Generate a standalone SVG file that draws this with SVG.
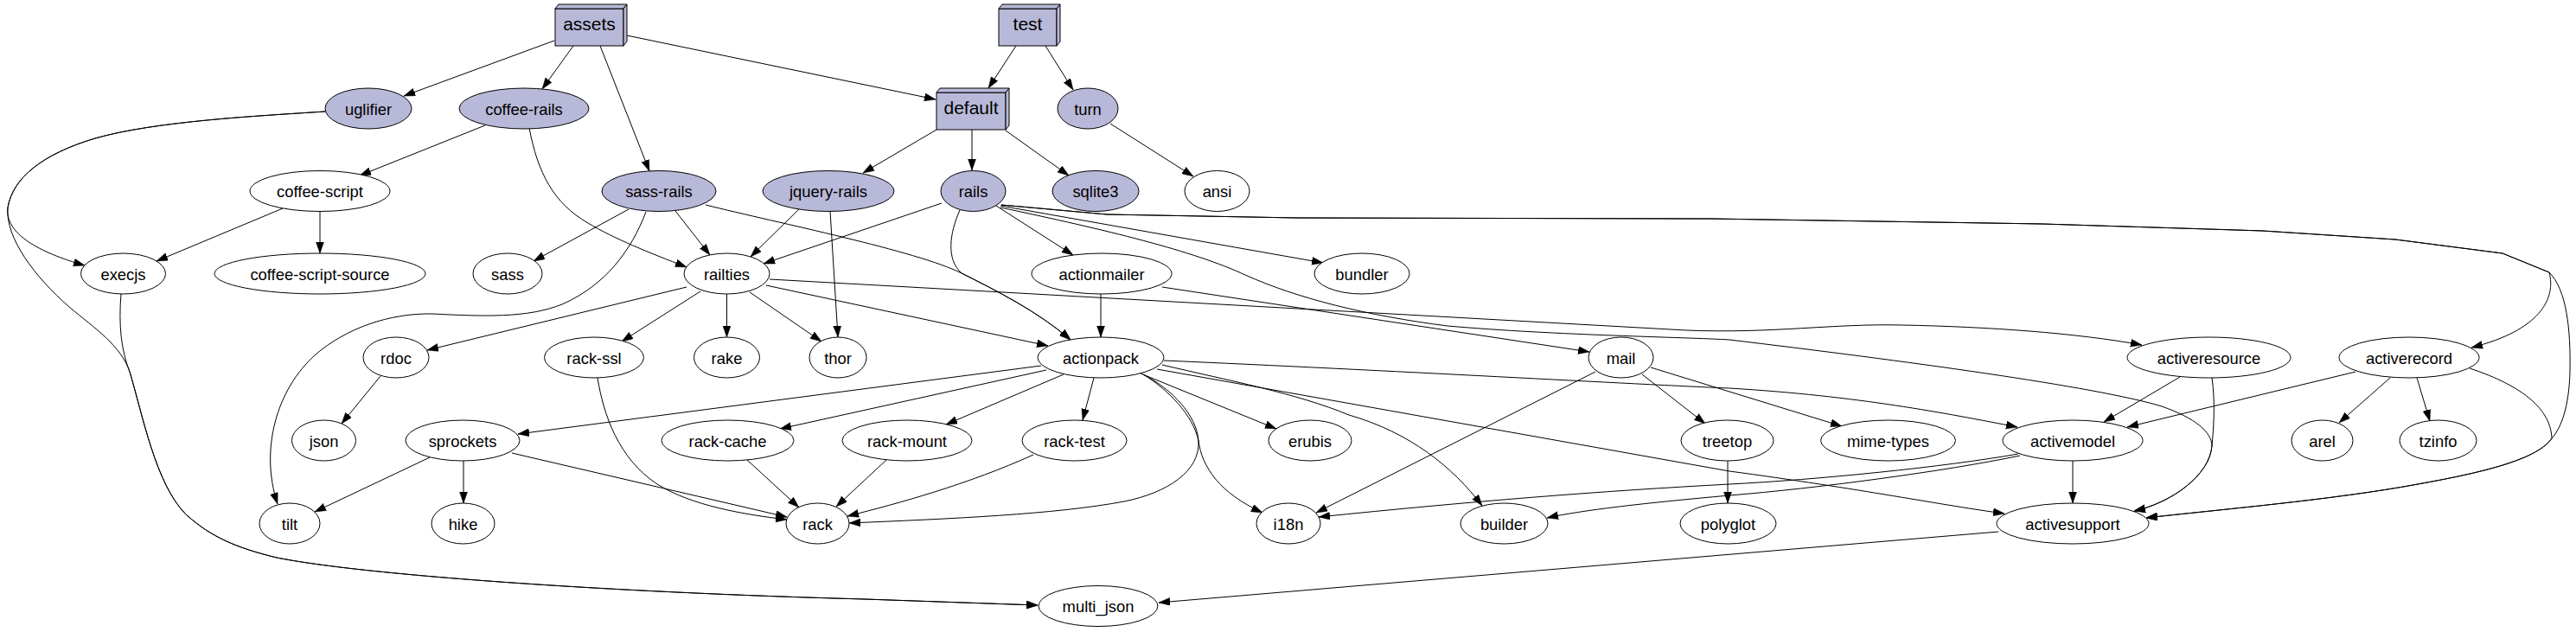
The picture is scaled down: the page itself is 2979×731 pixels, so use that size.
<svg xmlns="http://www.w3.org/2000/svg" width="2979" height="731" viewBox="0 0 2979 731">
<style>
.n ellipse{fill:#fff;stroke:#000;stroke-width:1}
.g ellipse{fill:#b8b8d8;stroke:#000;stroke-width:1}
.b rect,.b polygon{fill:#b8b8d8;stroke:#000;stroke-width:1}
text{font-family:"Liberation Sans",Arial,Helvetica,sans-serif;font-size:18.4px;text-anchor:middle;fill:#000}
.b text{font-size:21px}
#edges path{fill:none;stroke:#000;stroke-width:1;marker-end:url(#ah)}
</style>
<defs>
<marker id="ah" markerWidth="13" markerHeight="10" refX="13" refY="4.5" orient="auto" markerUnits="userSpaceOnUse"><path d="M0,0 L13,4.5 L0,9 z" fill="#000" stroke="#000" stroke-width="0.5"/></marker>
</defs>
<rect width="2979" height="731" fill="#fff"/>
<g id="edges">
<path d="M641,47 L467,111"/>
<path d="M663,53 L627,103"/>
<path d="M694,53 L751,198"/>
<path d="M725,41 L1082,115"/>
<path d="M1175,53 L1143,102"/>
<path d="M1209,53 L1241,104"/>
<path d="M1083,150 L998,200"/>
<path d="M1124,150 L1124,197"/>
<path d="M1163,151 L1236,203"/>
<path d="M1284,143 L1380,204"/>
<path d="M376,129 C300,134 180,140 110,160 C50,178 15,205 9,240 C5,270 45,292 98,307"/>
<path d="M376,129 C300,134 180,140 110,160 C50,178 15,205 9,240 C6,275 40,320 80,355 C110,380 140,400 150,430 C165,480 180,560 215,595 C245,622 275,634 320,645 C420,665 700,685 1000,693 L1200,700"/>
<path d="M140,340 C137,375 140,405 150,430 C165,480 180,560 215,595 C245,622 275,634 320,645 C420,665 700,685 1000,693 L1200,700"/>
<path d="M561,145 L416,203"/>
<path d="M612,148 C622,200 640,235 680,258 C710,276 750,292 794,309"/>
<path d="M327,241 L181,302"/>
<path d="M370,244.5 L370,293"/>
<path d="M727,242 L617,302"/>
<path d="M781,244 L821,295"/>
<path d="M747,245 C730,290 700,330 650,352 C610,368 560,366 500,363 C450,362 400,380 365,410 C320,450 300,520 321,583"/>
<path d="M816,237 C900,258 1060,290 1112,316 C1150,335 1200,360 1238,393"/>
<path d="M931,235 L868,297"/>
<path d="M960,244 L969,390"/>
<path d="M1089,235 L883,305"/>
<path d="M1110,243 C1098,270 1094,300 1112,316 C1150,335 1200,360 1238,393"/>
<path d="M1152,238 L1241,295"/>
<path d="M1157,238 L1530,304"/>
<path d="M1158,237 L1280,248 L1500,252 L1979,253 L2362,259 L2617,267 L2770,277 L2894,293 L2948,315 C2956,345 2938,382 2858,402"/>
<path d="M1158,237 L1280,248 L1500,252 L1979,253 L2362,259 L2617,267 L2770,277 L2894,293 L2948,315 C2968,335 2973,380 2972,430 C2971,470 2962,495 2951,507 C2935,530 2880,545 2796,560 C2700,578 2560,590 2482,599"/>
<path d="M1157,240 C1280,266 1380,290 1440,318 C1500,345 1580,365 1674,377 C1800,388 1950,390 2000,393 C2200,417 2424,447 2500,470 C2540,484 2557,500 2558,515 C2556,550 2510,582 2468,591"/>
<path d="M890,323 L1950,382 C2050,386 2120,374 2200,376 C2300,378 2400,385 2477,399"/>
<path d="M2856,426 C2920,447 2950,475 2951,507 C2935,530 2880,545 2796,560 C2700,578 2560,590 2482,599"/>
<path d="M2558,437 C2562,465 2560,495 2558,515 C2556,550 2510,582 2468,591"/>
<path d="M794,332 L494,405"/>
<path d="M810,337 L719,395"/>
<path d="M840.5,340 L840.5,390"/>
<path d="M867,338 L950,395"/>
<path d="M886,330 L1212,400"/>
<path d="M1273,340 L1273,390"/>
<path d="M1344,332 L1838,407"/>
<path d="M440,435 L395,490"/>
<path d="M1204,423 L599,502"/>
<path d="M1210,428 L902,496"/>
<path d="M1230,433 L1094,491"/>
<path d="M1265,437 L1252,486"/>
<path d="M1319,432 L1476,496"/>
<path d="M1322,433 C1350,450 1380,480 1386,510 C1390,540 1410,570 1460,593"/>
<path d="M1322,433 C1355,450 1384,480 1386,510 C1388,545 1350,570 1300,580 C1220,595 1100,600 982,605"/>
<path d="M1344,422 C1420,440 1500,455 1560,480 C1630,500 1680,540 1714,585"/>
<path d="M1346,417 C1600,428 1900,445 2000,449 C2150,458 2250,478 2333,494"/>
<path d="M1338,427 L2000,545 C2150,565 2250,585 2318,594"/>
<path d="M1845,430 L1522,593"/>
<path d="M1899,433 L1972,490"/>
<path d="M1909,425 L2130,493"/>
<path d="M1998,533 L1998,582"/>
<path d="M2521,436 L2433,488"/>
<path d="M2724,430 L2460,494"/>
<path d="M2764,437 L2705,489"/>
<path d="M2795,437 L2810,487"/>
<path d="M2397,533 L2397,582"/>
<path d="M2334,525 C2250,540 2100,555 2000,560 C1850,568 1700,580 1525,598"/>
<path d="M2336,527 C2250,545 2100,565 2000,573 C1900,582 1830,590 1789,599"/>
<path d="M2311,615 L1340,697"/>
<path d="M497,529 L364,592"/>
<path d="M536,533 L536,582"/>
<path d="M592,524 L910,598"/>
<path d="M691,437 C698,480 715,530 760,560 C800,585 860,595 910,601"/>
<path d="M864,532 L924,587"/>
<path d="M1025,532 L967,586"/>
<path d="M1195,526 C1120,560 1040,582 980,597"/>
</g>
<g id="assets" class="b"><rect x="642" y="10" width="79" height="43"/><polygon points="642,10 646,5 725,5 721,10"/><polygon points="721,10 725,5 725,48 721,53"/><text x="681.5" y="35">assets</text></g>
<g id="test" class="b"><rect x="1155" y="10" width="67" height="43"/><polygon points="1155,10 1159,5 1226,5 1222,10"/><polygon points="1222,10 1226,5 1226,48 1222,53"/><text x="1188.5" y="35">test</text></g>
<g id="default" class="b"><rect x="1083" y="107" width="80" height="43"/><polygon points="1083,107 1087,102 1167,102 1163,107"/><polygon points="1163,107 1167,102 1167,145 1163,150"/><text x="1123" y="132">default</text></g>
<g id="uglifier" class="g"><ellipse cx="426" cy="125.5" rx="50" ry="23.5"/><text x="426" y="132.5">uglifier</text></g>
<g id="coffee-rails" class="g"><ellipse cx="606" cy="125.5" rx="75" ry="23.5"/><text x="606" y="132.5">coffee-rails</text></g>
<g id="turn" class="g"><ellipse cx="1258" cy="125.5" rx="35" ry="23.5"/><text x="1258" y="132.5">turn</text></g>
<g id="coffee-script" class="n"><ellipse cx="370" cy="221" rx="81" ry="23.5"/><text x="370" y="228">coffee-script</text></g>
<g id="sass-rails" class="g"><ellipse cx="762" cy="221" rx="66" ry="23.5"/><text x="762" y="228">sass-rails</text></g>
<g id="jquery-rails" class="g"><ellipse cx="958" cy="221" rx="76" ry="23.5"/><text x="958" y="228">jquery-rails</text></g>
<g id="rails" class="g"><ellipse cx="1125.5" cy="221" rx="37.5" ry="23.5"/><text x="1125.5" y="228">rails</text></g>
<g id="sqlite3" class="g"><ellipse cx="1267" cy="221" rx="50" ry="23.5"/><text x="1267" y="228">sqlite3</text></g>
<g id="ansi" class="n"><ellipse cx="1407.5" cy="221" rx="37.5" ry="23.5"/><text x="1407.5" y="228">ansi</text></g>
<g id="execjs" class="n"><ellipse cx="142.5" cy="316.5" rx="49" ry="23.5"/><text x="142.5" y="323.5">execjs</text></g>
<g id="coffee-script-source" class="n"><ellipse cx="370" cy="316.5" rx="122" ry="23.5"/><text x="370" y="323.5">coffee-script-source</text></g>
<g id="sass" class="n"><ellipse cx="587" cy="316.5" rx="40" ry="23.5"/><text x="587" y="323.5">sass</text></g>
<g id="railties" class="n"><ellipse cx="840.5" cy="316.5" rx="49.5" ry="23.5"/><text x="840.5" y="323.5">railties</text></g>
<g id="actionmailer" class="n"><ellipse cx="1274" cy="316.5" rx="81" ry="23.5"/><text x="1274" y="323.5">actionmailer</text></g>
<g id="bundler" class="n"><ellipse cx="1575" cy="316.5" rx="55" ry="23.5"/><text x="1575" y="323.5">bundler</text></g>
<g id="rdoc" class="n"><ellipse cx="458" cy="413.5" rx="38" ry="23.5"/><text x="458" y="420.5">rdoc</text></g>
<g id="rack-ssl" class="n"><ellipse cx="687" cy="413.5" rx="57.5" ry="23.5"/><text x="687" y="420.5">rack-ssl</text></g>
<g id="rake" class="n"><ellipse cx="840.5" cy="413.5" rx="38" ry="23.5"/><text x="840.5" y="420.5">rake</text></g>
<g id="thor" class="n"><ellipse cx="969" cy="413.5" rx="33" ry="23.5"/><text x="969" y="420.5">thor</text></g>
<g id="actionpack" class="n"><ellipse cx="1273" cy="413.5" rx="73" ry="23.5"/><text x="1273" y="420.5">actionpack</text></g>
<g id="mail" class="n"><ellipse cx="1874.5" cy="413.5" rx="37.5" ry="23.5"/><text x="1874.5" y="420.5">mail</text></g>
<g id="activeresource" class="n"><ellipse cx="2554.5" cy="413.5" rx="94.5" ry="23.5"/><text x="2554.5" y="420.5">activeresource</text></g>
<g id="activerecord" class="n"><ellipse cx="2786" cy="413.5" rx="81" ry="23.5"/><text x="2786" y="420.5">activerecord</text></g>
<g id="json" class="n"><ellipse cx="374.5" cy="509.5" rx="37" ry="23.5"/><text x="374.5" y="516.5">json</text></g>
<g id="sprockets" class="n"><ellipse cx="535" cy="509.5" rx="66" ry="23.5"/><text x="535" y="516.5">sprockets</text></g>
<g id="rack-cache" class="n"><ellipse cx="841.5" cy="509.5" rx="76.5" ry="23.5"/><text x="841.5" y="516.5">rack-cache</text></g>
<g id="rack-mount" class="n"><ellipse cx="1049" cy="509.5" rx="75" ry="23.5"/><text x="1049" y="516.5">rack-mount</text></g>
<g id="rack-test" class="n"><ellipse cx="1242.5" cy="509.5" rx="60.5" ry="23.5"/><text x="1242.5" y="516.5">rack-test</text></g>
<g id="erubis" class="n"><ellipse cx="1515" cy="509.5" rx="48" ry="23.5"/><text x="1515" y="516.5">erubis</text></g>
<g id="treetop" class="n"><ellipse cx="1997.5" cy="509.5" rx="53.5" ry="23.5"/><text x="1997.5" y="516.5">treetop</text></g>
<g id="mime-types" class="n"><ellipse cx="2183.5" cy="509.5" rx="78" ry="23.5"/><text x="2183.5" y="516.5">mime-types</text></g>
<g id="activemodel" class="n"><ellipse cx="2397" cy="509.5" rx="81" ry="23.5"/><text x="2397" y="516.5">activemodel</text></g>
<g id="arel" class="n"><ellipse cx="2685.5" cy="509.5" rx="35.5" ry="23.5"/><text x="2685.5" y="516.5">arel</text></g>
<g id="tzinfo" class="n"><ellipse cx="2819.5" cy="509.5" rx="44.5" ry="23.5"/><text x="2819.5" y="516.5">tzinfo</text></g>
<g id="tilt" class="n"><ellipse cx="335" cy="605.5" rx="35" ry="23.5"/><text x="335" y="612.5">tilt</text></g>
<g id="hike" class="n"><ellipse cx="535.5" cy="605.5" rx="36.5" ry="23.5"/><text x="535.5" y="612.5">hike</text></g>
<g id="rack" class="n"><ellipse cx="945.5" cy="605.5" rx="36.5" ry="23.5"/><text x="945.5" y="612.5">rack</text></g>
<g id="i18n" class="n"><ellipse cx="1490" cy="605.5" rx="37" ry="23.5"/><text x="1490" y="612.5">i18n</text></g>
<g id="builder" class="n"><ellipse cx="1739.5" cy="605.5" rx="50.5" ry="23.5"/><text x="1739.5" y="612.5">builder</text></g>
<g id="polyglot" class="n"><ellipse cx="1998.5" cy="605.5" rx="55.5" ry="23.5"/><text x="1998.5" y="612.5">polyglot</text></g>
<g id="activesupport" class="n"><ellipse cx="2397" cy="605.5" rx="88" ry="23.5"/><text x="2397" y="612.5">activesupport</text></g>
<g id="multi_json" class="n"><ellipse cx="1270" cy="701" rx="69" ry="23.5"/><text x="1270" y="708">multi_json</text></g>
</svg>
